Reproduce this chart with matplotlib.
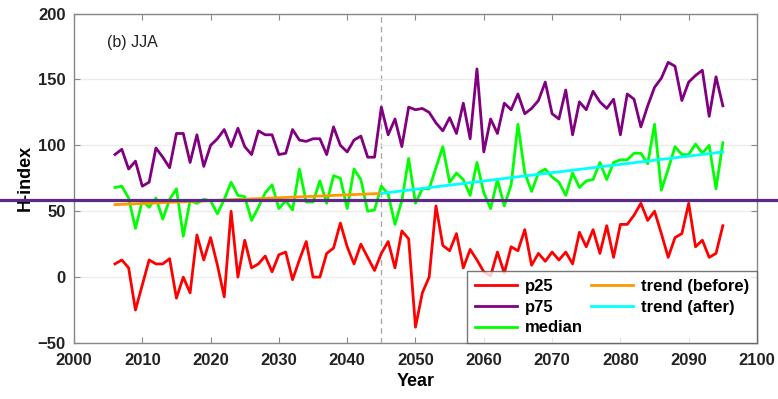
import numpy as np
import matplotlib
matplotlib.use('Agg')
import matplotlib.pyplot as plt
from matplotlib.transforms import blended_transform_factory

plt.rcParams['font.family'] = ['Liberation Sans', 'DejaVu Sans']

# Years and the three percentile series
years = np.arange(2006, 2096)

p25 = [10, 13, 7, -25, -6, 13, 10, 10, 14, -16,
       0, -12, 32, 13, 30, 9, -15, 50, 0, 28,
       7, 10, 16, 4, 17, 19, -2, 13, 27, 0,
       0, 18, 22, 41, 23, 10, 25, 15, 5, 18,
       27, 7, 35, 29, -38, -12, 0, 54, 24, 20,
       33, 7, 21, 13, 4, 1, 19, 3, 23, 20,
       36, 9, 18, 12, 19, 13, 19, 10, 34, 23,
       36, 18, 39, 15, 40, 40, 47, 56, 43, 50,
       33, 15, 30, 33, 56, 23, 28, 15, 18, 39]

p75 = [93, 97, 82, 88, 69, 72, 98, 91, 83, 109,
       109, 87, 108, 84, 100, 105, 112, 99, 113, 99,
       93, 111, 108, 108, 93, 94, 112, 104, 103, 105,
       105, 93, 114, 100, 95, 104, 107, 91, 91, 129,
       108, 120, 99, 129, 127, 128, 125, 117, 111, 121,
       109, 132, 105, 158, 95, 120, 109, 132, 127, 139,
       124, 128, 134, 148, 124, 120, 142, 108, 133, 127,
       141, 133, 128, 135, 108, 139, 135, 114, 130, 144,
       151, 163, 160, 134, 148, 153, 157, 122, 152, 130]

median = [68, 69, 60, 37, 58, 53, 60, 44, 59, 67,
          31, 58, 56, 59, 58, 48, 59, 72, 62, 61,
          43, 53, 64, 70, 52, 58, 51, 82, 57, 57,
          73, 56, 77, 75, 52, 82, 74, 50, 51, 69,
          63, 40, 58, 90, 56, 67, 67, 83, 99, 72,
          79, 74, 62, 87, 64, 52, 74, 54, 70, 116,
          79, 65, 79, 82, 76, 72, 62, 79, 68, 73,
          74, 87, 74, 87, 89, 89, 94, 94, 86, 116,
          66, 82, 99, 93, 93, 101, 94, 100, 67, 102]

# trend line end points
trend_before_years = [2006, 2045]
trend_before = [55, 63.5]
trend_after_years = [2045, 2095]
trend_after = [63.5, 95]

break_year = 2045
ref_level = 58.5

fig = plt.figure(figsize=(7.78, 3.99), dpi=100)
ax = fig.add_axes([0.0951, 0.1404, 0.8779, 0.8256])

ax.plot(years, p25, color='#ff0000', lw=2, label='p25')
ax.plot(years, p75, color='#800080', lw=2, label='p75')
ax.plot(years, median, color='#00ff00', lw=2, label='median')
ax.plot(trend_before_years, trend_before, color='#ff9900', lw=2, label='trend (before)')
ax.plot(trend_after_years, trend_after, color='#00ffff', lw=2, label='trend (after)')

ax.axvline(break_year, color='#aaaaaa', lw=1, ls=(0, (4, 3)), zorder=0)

# horizontal reference line running across the whole figure
trans = blended_transform_factory(fig.transFigure, ax.transData)
ax.plot([0, 1], [ref_level, ref_level], color='#5b2a86', lw=2.3,
        transform=trans, clip_on=False, zorder=10)

ax.set_xlim(2000, 2100)
ax.set_ylim(-50, 200)
ax.set_xticks(np.arange(2000, 2101, 10))
ax.set_yticks(np.arange(-50, 201, 50))
ax.yaxis.grid(True, color='#ececec', lw=1)
ax.set_axisbelow(True)

ax.tick_params(direction='in', top=True, right=True, length=4,
               color='#888888', labelsize=12, labelcolor='#222222')
ax.tick_params(axis='x', pad=7)
ax.tick_params(axis='y', pad=6)
for lab in ax.get_xticklabels() + ax.get_yticklabels():
    lab.set_fontweight('bold')
for sp in ax.spines.values():
    sp.set_color('#888888')
    sp.set_linewidth(1)

ax.set_xlabel('Year', fontsize=13, fontweight='bold', labelpad=4)
ax.set_ylabel('H-index', fontsize=13, fontweight='bold', labelpad=3)

ax.text(0.048, 0.913, '(b) JJA', transform=ax.transAxes, fontsize=11.5,
        va='center', ha='left', color='#222222')

leg = ax.legend(loc='lower right', ncol=2, borderaxespad=0, fancybox=False,
                edgecolor='#555555', prop={'weight': 'bold', 'size': 12},
                handlelength=2.5, handletextpad=0.5, columnspacing=0.5,
                labelspacing=0.35, borderpad=0.45)
leg.get_frame().set_linewidth(1)
leg.set_zorder(20)

fig.savefig('out.png', dpi=100)
